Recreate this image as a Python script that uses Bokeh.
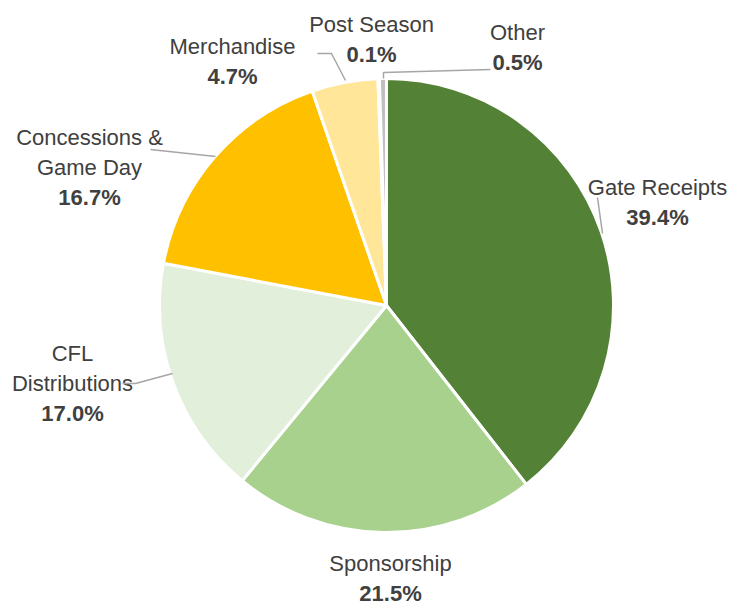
import math
from bokeh.plotting import figure
from bokeh.models import Range1d, ColumnDataSource
from bokeh.core.properties import value
from bokeh.embed import file_html
from bokeh.resources import INLINE

categories = ["Gate Receipts", "Sponsorship", "CFL Distributions", "Concessions & Game Day",
              "Merchandise", "Post Season", "Other"]
shares = [39.4, 21.5, 17.0, 16.7, 4.7, 0.1, 0.5]
colors = ["#538135", "#A9D18E", "#E2EFDA", "#FFC000", "#FFE699", "#F2F2F2", "#BFBFBF"]
name_lines = [["Gate Receipts"], ["Sponsorship"], ["CFL", "Distributions"],
              ["Concessions &", "Game Day"], ["Merchandise"], ["Post Season"], ["Other"]]
pct_labels = [f"{v:.1f}%" for v in shares]

W, H = 743, 605
def Y(y):
    return H - y

p = figure(width=W, height=H, output_backend="svg", toolbar_location=None,
           x_range=Range1d(0, W), y_range=Range1d(0, H), min_border=0)
p.axis.visible = False
p.grid.visible = False
p.outline_line_color = None
p.background_fill_color = "white"

cx, cy, r = 386, Y(305), 227
total = sum(shares)
starts, ends = [], []
acc = 0.0
for v in shares:
    a0 = math.pi / 2 - 2 * math.pi * acc / total
    acc += v
    a1 = math.pi / 2 - 2 * math.pi * acc / total
    starts.append(a0)
    ends.append(a1)

src = ColumnDataSource(dict(start=starts, end=ends, color=colors))
p.wedge(x=cx, y=cy, radius=r, start_angle="start", end_angle="end", direction="clock",
        fill_color="color", line_color="white", line_width=3, source=src)

# label anchor positions (image px): centre of first name line
label_pos = [(657, 187), (390, 563), (72, 353), (89, 137), (232, 46), (371, 24), (517, 32)]
font = value("Liberation Sans")
txt_color = "#404040"
for (lx, ly), lines, pct in zip(label_pos, name_lines, pct_labels):
    yy = ly
    for ln in lines:
        p.text(x=[lx], y=[Y(yy)], text=[ln], text_font=font, text_font_size="22px",
               text_color=txt_color, text_align="center", text_baseline="middle")
        yy += 30
    p.text(x=[lx], y=[Y(yy)], text=[pct], text_font=font, text_font_size="22px",
           text_font_style="bold", text_color=txt_color, text_align="center",
           text_baseline="middle")

# leader lines
leaders = [
    ([597, 602], [197, 233]),
    ([150, 215], [149, 156]),
    ([122, 135, 172], [383, 383, 373]),
    ([317, 331, 345], [53, 53, 80]),
    ([383, 383, 490], [78, 72, 69]),
]
for xs, ys in leaders:
    p.line(x=xs, y=[Y(v) for v in ys], line_color="#A6A6A6", line_width=1.5)

open("out.html", "w").write(file_html(p, INLINE))
